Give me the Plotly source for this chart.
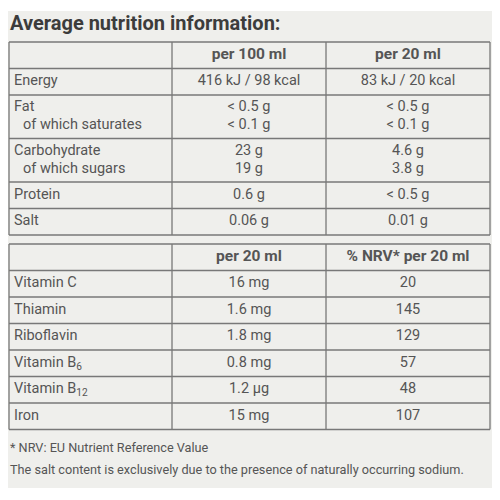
import plotly.graph_objects as go

# nutrition table values (sub-rows belong to the row above)
nutrients = ["Energy", "Fat", "Carbohydrate", "Protein", "Salt"]
sub_nutrients = ["", "of which saturates", "of which sugars", "", ""]
per_100ml = ["416 kJ / 98 kcal", "< 0.5 g", "23 g", "0.6 g", "0.06 g"]
per_100ml_sub = ["", "< 0.1 g", "19 g", "", ""]
per_20ml = ["83 kJ / 20 kcal", "< 0.5 g", "4.6 g", "< 0.5 g", "0.01 g"]
per_20ml_sub = ["", "< 0.1 g", "3.8 g", "", ""]

# vitamins and minerals
vitamins = ["Vitamin C", "Thiamin", "Riboflavin", "Vitamin B<sub>6</sub>",
            "Vitamin B<sub>12</sub>", "Iron"]
vit_per_20ml = ["16 mg", "1.6 mg", "1.8 mg", "0.8 mg", "1.2 µg", "15 mg"]
nrv_pct = [20, 145, 129, 57, 48, 107]

headers_1 = ["", "per 100 ml", "per 20 ml"]
headers_2 = ["", "per 20 ml", "% NRV* per 20 ml"]

title = "Average nutrition information:"
footnotes = ["* NRV: EU Nutrient Reference Value",
             "The salt content is exclusively due to the presence of naturally occurring sodium."]

# layout (hidden axes map 1 unit to 1 screen pixel; page body has an 8px margin)
BG = "#efefec"
LINE = "#787878"
TXT = "#555555"
FONT = "Roboto"
PAGE_OFF = 8
COL_X = [9, 172, 326, 490]
ROW_H = 26.5
LINE_STEP = 18
PAD_L = 5
INDENT = 9

fig = go.Figure()


def add_table(top, headers, columns, subs):
    n_lines = [2 if s else 1 for s in subs[0]]
    heights = [ROW_H] + [ROW_H + (n - 1) * (LINE_STEP - 1) for n in n_lines]
    bounds = [top]
    for h in heights:
        bounds.append(bounds[-1] + h)

    # grid lines
    for yb in bounds:
        fig.add_shape(type="line", x0=COL_X[0], x1=COL_X[-1], y0=yb, y1=yb,
                      line=dict(color=LINE, width=1.3))
    for xb in COL_X:
        fig.add_shape(type="line", x0=xb, x1=xb, y0=bounds[0], y1=bounds[-1],
                      line=dict(color=LINE, width=1.3))

    # header
    hx = [(COL_X[i] + COL_X[i + 1]) / 2 for i in range(1, 3)]
    hy = [(bounds[0] + bounds[1]) / 2] * 2
    fig.add_trace(go.Scatter(x=hx, y=hy, mode="text", text=headers[1:],
                             textposition="middle center",
                             textfont=dict(family=FONT, size=15.5, color=TXT, weight="bold"),
                             hoverinfo="skip"))

    # body
    for ci, (col, sub) in enumerate(zip(columns, subs)):
        xs, ys, ts = [], [], []
        for ri, (main, second) in enumerate(zip(col, sub)):
            r_top, r_bot = bounds[ri + 1], bounds[ri + 2]
            n = n_lines[ri]
            y0 = (r_top + r_bot) / 2 - (n - 1) * LINE_STEP / 2
            if ci == 0:
                x_main, x_sub = COL_X[0] + PAD_L, COL_X[0] + PAD_L + INDENT
            else:
                x_main = x_sub = (COL_X[ci] + COL_X[ci + 1]) / 2
            xs.append(x_main)
            ys.append(y0)
            ts.append(main)
            if second:
                xs.append(x_sub)
                ys.append(y0 + LINE_STEP)
                ts.append(second)
        fig.add_trace(go.Scatter(x=xs, y=ys, mode="text", text=ts,
                                 textposition="middle right" if ci == 0 else "middle center",
                                 textfont=dict(family=FONT, size=14.5, color=TXT),
                                 hoverinfo="skip"))


add_table(42, headers_1,
          [nutrients, per_100ml, per_20ml],
          [sub_nutrients, per_100ml_sub, per_20ml_sub])
blank = [""] * len(vitamins)
add_table(244, headers_2,
          [vitamins, vit_per_20ml, [str(v) for v in nrv_pct]],
          [blank, blank, blank])

fig.add_annotation(x=8, y=23, xanchor="left", yanchor="middle", showarrow=False,
                   text=f"<b>{title}</b>", font=dict(family=FONT, size=20, color="#3c3c3c"))
for txt, yy in zip(footnotes, [447, 469]):
    fig.add_annotation(x=8, y=yy, xanchor="left", yanchor="middle", showarrow=False,
                       text=txt, font=dict(family=FONT, size=12.7, color=TXT))

fig.update_layout(
    width=500 - PAGE_OFF,
    height=500 - PAGE_OFF,
    margin=dict(l=0, r=0, t=11 - PAGE_OFF, b=12),
    paper_bgcolor="white",
    plot_bgcolor=BG,
    showlegend=False,
    xaxis=dict(range=[PAGE_OFF, 500], visible=False, fixedrange=True),
    yaxis=dict(range=[488, 11], visible=False, fixedrange=True),
)

fig.write_html("out.html")
